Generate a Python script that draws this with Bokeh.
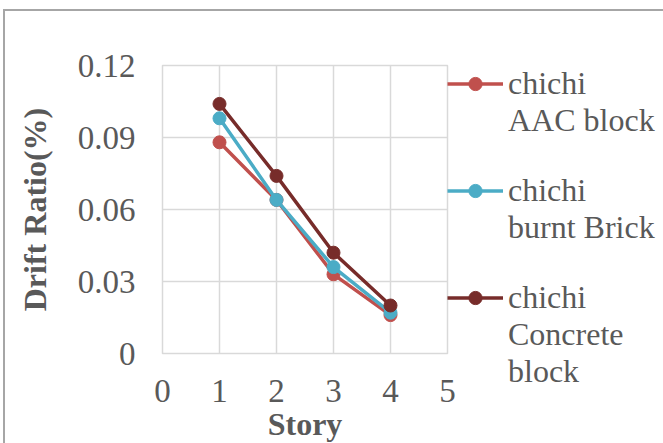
from bokeh.plotting import figure
from bokeh.models import Legend, LegendItem, FixedTicker
from bokeh.embed import file_html
from bokeh.resources import INLINE

# Drift ratio (%) per story under the Chi-Chi record
stories = [1, 2, 3, 4]
aac_block = [0.088, 0.064, 0.033, 0.016]
burnt_brick = [0.098, 0.064, 0.036, 0.017]
concrete_block = [0.104, 0.074, 0.042, 0.020]

# legend text, one list of lines per series
series_labels = [["chichi", "AAC block"],
                 ["chichi", "burnt Brick"],
                 ["chichi", "Concrete", "block"]]
series_colors = ["#C0504D", "#4BACC6", "#772C2A"]

x_ticks = [0, 1, 2, 3, 4, 5]
y_ticks = [0, 0.03, 0.06, 0.09, 0.12]
y_tick_labels = ["0", "0.03", "0.06", "0.09", "0.12"]

FONT = "Liberation Serif"
TEXT = "#595959"
GRID = "#D9D9D9"

p = figure(frame_width=285, frame_height=288, output_backend="svg", toolbar_location=None,
           x_range=(0, 5), y_range=(0, 0.12),
           min_border_left=157, min_border_top=54, min_border_right=216,
           min_border_bottom=92)
p.styles = {"margin-left": "3px", "margin-top": "9px",
            "border-left": "2px solid #A6A6A6", "border-top": "2px solid #A6A6A6"}

p.outline_line_color = GRID
p.outline_line_width = 1.5
p.background_fill_color = "white"
p.border_fill_color = "white"

p.xaxis.ticker = FixedTicker(ticks=x_ticks)
p.yaxis.ticker = FixedTicker(ticks=y_ticks)
p.yaxis.major_label_overrides = {v: s for v, s in zip(y_ticks, y_tick_labels)}

for ax in (p.xaxis, p.yaxis):
    ax.axis_line_color = None
    ax.major_tick_line_color = None
    ax.minor_tick_line_color = None
    ax.major_label_text_font = FONT
    ax.major_label_text_font_size = "33px"
    ax.major_label_text_color = TEXT
    ax.axis_label_text_font = FONT
    ax.axis_label_text_font_size = "32px"
    ax.axis_label_text_font_style = "bold"
    ax.axis_label_text_color = TEXT

p.xaxis.axis_label = "Story"
p.yaxis.axis_label = "Drift Ratio(%)"
p.xaxis.major_label_standoff = 20
p.yaxis.major_label_standoff = 21
p.xaxis.axis_label_standoff = 1
p.yaxis.axis_label_standoff = 22

p.grid.grid_line_color = GRID
p.grid.grid_line_width = 1.5

# empty, invisible renderer used for legend rows that carry only text
blank = p.line([], [], line_alpha=0)

items = []
for s, (ys, color, lines) in enumerate(zip([aac_block, burnt_brick, concrete_block],
                                           series_colors, series_labels)):
    ln = p.line(stories, ys, line_color=color, line_width=3.5)
    sc = p.scatter(stories, ys, size=13, fill_color=color, line_color=color)
    items.append(LegendItem(label=lines[0], renderers=[ln, sc]))
    for extra in lines[1:]:
        items.append(LegendItem(label=extra, renderers=[blank]))
    if s < len(series_labels) - 1:
        items.append(LegendItem(label=" ", renderers=[blank]))

legend = Legend(items=items, location="top_left",
                padding=0, margin=0, spacing=0,
                glyph_width=56, glyph_height=33, label_standoff=5,
                label_text_font=FONT, label_text_font_size="32px",
                label_text_color=TEXT, border_line_color=None,
                background_fill_alpha=0)
p.add_layout(legend, "right")

open("out.html", "w").write(file_html(p, INLINE))
